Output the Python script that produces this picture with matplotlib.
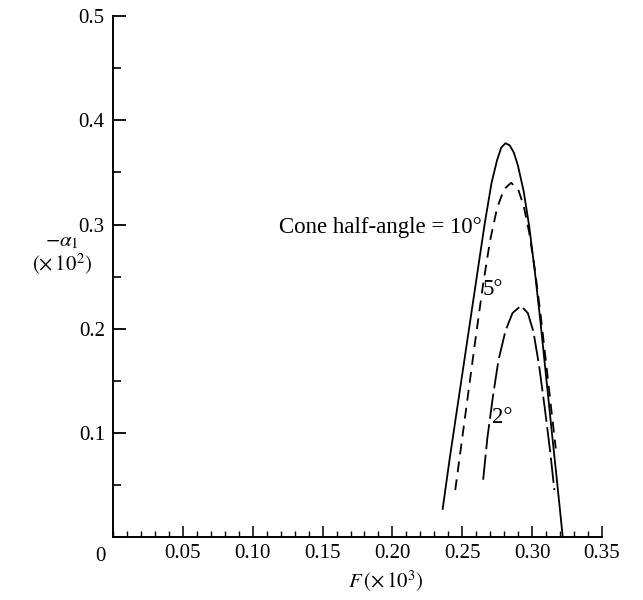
import matplotlib
matplotlib.use("Agg")
import matplotlib.pyplot as plt
from matplotlib.ticker import MultipleLocator

plt.rcParams["font.family"] = ["Liberation Serif", "DejaVu Serif"]
plt.rcParams["mathtext.fontset"] = "stix"

# cone half-angle = 10 deg (solid)
F_10 = [0.236, 0.241, 0.246, 0.251, 0.256, 0.261, 0.266, 0.271, 0.275, 0.278,
        0.281, 0.284, 0.287, 0.290, 0.294, 0.298, 0.302, 0.306, 0.310, 0.314,
        0.318, 0.322]
a_10 = [0.027, 0.075, 0.120, 0.165, 0.210, 0.255, 0.300, 0.340, 0.362, 0.374,
        0.378, 0.376, 0.369, 0.356, 0.332, 0.298, 0.255, 0.207, 0.155, 0.103,
        0.052, 0.000]

# 5 deg (dashed)
F_5 = [0.245, 0.250, 0.255, 0.260, 0.265, 0.270, 0.275, 0.280, 0.285, 0.290,
       0.294, 0.298, 0.302, 0.306, 0.310, 0.314, 0.317]
a_5 = [0.045, 0.095, 0.145, 0.195, 0.243, 0.285, 0.316, 0.334, 0.340, 0.334,
       0.318, 0.292, 0.257, 0.215, 0.168, 0.120, 0.085]

# 2 deg (long dashed)
F_2 = [0.265, 0.268, 0.272, 0.276, 0.281, 0.286, 0.292, 0.297, 0.301, 0.305,
       0.309, 0.313, 0.316]
a_2 = [0.055, 0.095, 0.135, 0.170, 0.198, 0.215, 0.222, 0.215, 0.197, 0.165,
       0.125, 0.082, 0.045]

fig = plt.figure(figsize=(6.43, 6.0), dpi=100)
ax = fig.add_axes([0.176, 0.105, 0.760, 0.868])

ax.plot(F_10, a_10, color="black", lw=1.3)
ax.plot(F_5, a_5, color="black", lw=1.3, dashes=(6, 4))
ax.plot(F_2, a_2, color="black", lw=1.3, dashes=(14, 3))

ax.set_xlim(0, 0.35)
ax.set_ylim(0, 0.5)
ax.spines["top"].set_visible(False)
ax.spines["right"].set_visible(False)
for s in ["left", "bottom"]:
    ax.spines[s].set_linewidth(1.4)

ax.xaxis.set_minor_locator(MultipleLocator(0.01))
ax.yaxis.set_minor_locator(MultipleLocator(0.05))
ax.tick_params(axis="x", which="major", direction="in", length=8, width=1.1,
               labelsize=15, pad=5)
ax.tick_params(axis="x", which="minor", direction="in", length=4.5, width=1.0)
ax.tick_params(axis="y", which="major", direction="in", length=9.5, width=1.3,
               labelsize=15, pad=6)
ax.tick_params(axis="y", which="minor", direction="in", length=6, width=1.2)

ax.set_xticks([0.05, 0.10, 0.15, 0.20, 0.25, 0.30, 0.35])
ax.set_xticklabels(["0.05", "0.10", "0.15", "0.20", "0.25", "0.30", "0.35"])
ax.set_yticks([0.1, 0.2, 0.3, 0.4, 0.5])
ax.set_yticklabels(["0.1", "0.2", "0.3", "0.4", "0.5"])
ax.text(-0.009, -0.019, "0", fontsize=15, ha="center", va="center")

ax.text(-0.0365, 0.283, r"$-\alpha_1$", fontsize=15, ha="center", va="center")
ax.text(-0.0365, 0.262, r"$(\times\,10^2)$", fontsize=15, ha="center", va="center")
ax.text(0.195, -0.043, r"$F\,(\times\,10^3)$", fontsize=15, ha="center", va="center")

ax.text(0.264, 0.297, "Cone half-angle = 10°", fontsize=16.5, ha="right", va="center")
ax.text(0.272, 0.238, "5°", fontsize=16.5, ha="center", va="center")
ax.text(0.279, 0.115, "2°", fontsize=16.5, ha="center", va="center")

fig.savefig("out.png", dpi=100)
